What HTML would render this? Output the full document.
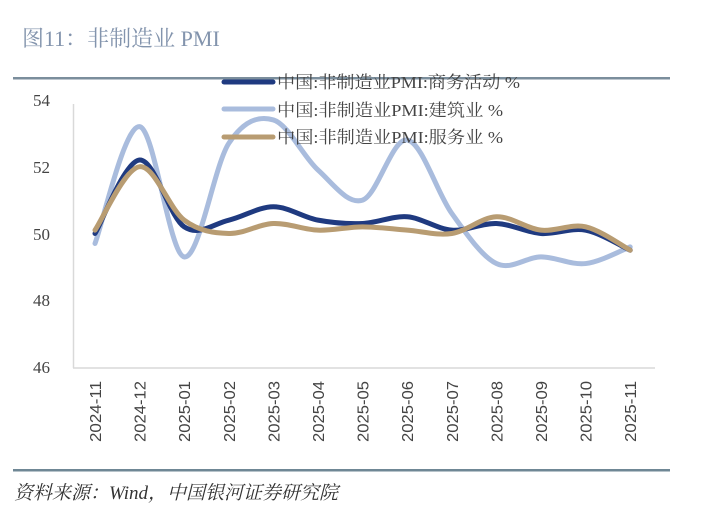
<!DOCTYPE html>
<html><head><meta charset="utf-8"><style>
body{margin:0;background:#fff;width:702px;height:513px;overflow:hidden}
svg{display:block}
text{font-family:"Liberation Serif","Noto Serif CJK SC",serif}
text.sx{font-family:"Liberation Sans",sans-serif}
</style></head><body>
<svg id="s" width="702" height="513" xmlns="http://www.w3.org/2000/svg">
<text x="22" y="46" font-size="22" fill="#8394ad">图11：非制造业 PMI</text>
<rect x="13" y="77" width="657" height="2.5" fill="#7b8e9c"/>
<rect x="13" y="469" width="657" height="2.5" fill="#6f8795"/>
<text x="14" y="499" font-size="19" fill="#333" font-style="italic">资料来源：Wind，中国银河证券研究院</text>
<line x1="73.5" y1="104" x2="73.5" y2="368" stroke="#d9d9d9" stroke-width="1.5"/>
<line x1="73" y1="368" x2="655" y2="368" stroke="#d9d9d9" stroke-width="1.5"/>
<g font-size="17" fill="#444" text-anchor="end">
<text x="50" y="106">54</text><text x="50" y="173">52</text><text x="50" y="240">50</text><text x="50" y="306">48</text><text x="50" y="373">46</text>
</g>
<g id="xl" font-size="16" fill="#444"></g>
<g id="ln" fill="none" stroke-width="5" stroke-linecap="round"></g>
<g>
<line x1="224" y1="82" x2="273" y2="82" stroke="#1f3a80" stroke-width="5" stroke-linecap="round"/>
<line x1="224" y1="109" x2="273" y2="109" stroke="#a9bcdd" stroke-width="5" stroke-linecap="round"/>
<line x1="224" y1="137" x2="273" y2="137" stroke="#b89c72" stroke-width="5" stroke-linecap="round"/>
<g font-size="17" fill="#444"><text x="277" y="88" textLength="243" lengthAdjust="spacingAndGlyphs">中国:非制造业PMI:商务活动 %</text><text x="277" y="116" textLength="226" lengthAdjust="spacingAndGlyphs">中国:非制造业PMI:建筑业 %</text><text x="277" y="143" textLength="226" lengthAdjust="spacingAndGlyphs">中国:非制造业PMI:服务业 %</text></g>
</g>
</svg>
<script>
const labs=["2024-11","2024-12","2025-01","2025-02","2025-03","2025-04","2025-05","2025-06","2025-07","2025-08","2025-09","2025-10","2025-11"];
const X=i=>95+i*44.6, Y=v=>233.5-(v-50)*33.4;
let xl="";labs.forEach((l,i)=>{xl+=`<text class="sx" transform="translate(${X(i)+6},442) rotate(-90)" textLength="61" lengthAdjust="spacingAndGlyphs">${l}</text>`});
document.getElementById("xl").innerHTML=xl;
const S=[
["#a9bcdd",[49.7,53.2,49.3,52.7,53.4,51.9,51.0,52.8,50.6,49.1,49.3,49.1,49.6]],
["#1f3a80",[50.0,52.2,50.2,50.4,50.8,50.4,50.3,50.5,50.1,50.3,50.0,50.1,49.5]],
["#b89c72",[50.1,52.0,50.4,50.0,50.3,50.1,50.2,50.1,50.0,50.5,50.1,50.2,49.5]]];
let h="";
S.forEach(([c,d])=>{const p=d.map((v,i)=>[X(i),Y(v)]);let s=`M${p[0]}`;
for(let i=0;i<p.length-1;i++){const a=p[Math.max(0,i-1)],b=p[i],e=p[i+1],f=p[Math.min(p.length-1,i+2)];
const c1=[b[0]+(e[0]-a[0])/6,b[1]+(e[1]-a[1])/6],c2=[e[0]-(f[0]-b[0])/6,e[1]-(f[1]-b[1])/6];
s+=` C${c1} ${c2} ${e}`;}
h+=`<path d="${s}" stroke="${c}"/>`;});
document.getElementById("ln").innerHTML=h;
</script>
</body></html>
